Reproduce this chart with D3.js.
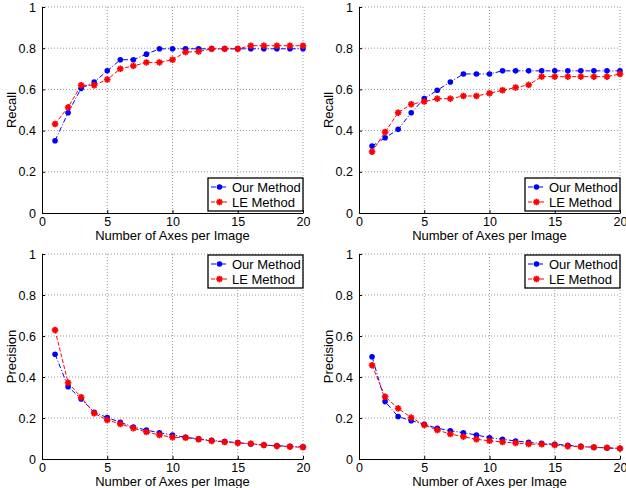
<!DOCTYPE html>
<html>
<head>
<meta charset="utf-8">
<script src="https://cdnjs.cloudflare.com/ajax/libs/d3/7.8.5/d3.min.js"></script>
<style>
  body { margin: 0; background: #fff; }
  svg { font-family: "Liberation Sans", Arial, sans-serif; }
</style>
</head>
<body>
<div id="chart"></div>
<script>
// axes per image, 1..20
var axesCount = d3.range(1, 21);
var xTicks = [0, 5, 10, 15, 20];
var yTicks = [0, 0.2, 0.4, 0.6, 0.8, 1];
var seriesNames = ["Our Method", "LE Method"];

// top left: recall
var recallOursA = [0.351, 0.487, 0.605, 0.636, 0.690, 0.744, 0.744, 0.771, 0.797, 0.797,
                   0.797, 0.797, 0.797, 0.797, 0.797, 0.797, 0.797, 0.797, 0.797, 0.797];
var recallLEA   = [0.432, 0.513, 0.620, 0.620, 0.648, 0.700, 0.714, 0.731, 0.731, 0.744,
                   0.781, 0.784, 0.797, 0.797, 0.797, 0.812, 0.812, 0.812, 0.812, 0.812];
// top right: recall
var recallOursB = [0.325, 0.365, 0.406, 0.487, 0.555, 0.596, 0.636, 0.675, 0.675, 0.675,
                   0.690, 0.690, 0.690, 0.690, 0.690, 0.690, 0.690, 0.690, 0.690, 0.690];
var recallLEB   = [0.297, 0.393, 0.487, 0.528, 0.541, 0.555, 0.555, 0.568, 0.568, 0.581,
                   0.596, 0.609, 0.622, 0.662, 0.662, 0.662, 0.662, 0.662, 0.662, 0.675];
// bottom left: precision
var precOursA = [0.511, 0.353, 0.293, 0.228, 0.202, 0.179, 0.156, 0.141, 0.128, 0.117,
                 0.106, 0.098, 0.091, 0.085, 0.080, 0.073, 0.068, 0.065, 0.062, 0.059];
var precLEA   = [0.629, 0.372, 0.301, 0.223, 0.190, 0.171, 0.150, 0.132, 0.117, 0.106,
                 0.104, 0.096, 0.088, 0.083, 0.078, 0.075, 0.068, 0.063, 0.060, 0.057];
// bottom right: precision
var precOursB = [0.499, 0.280, 0.207, 0.187, 0.169, 0.150, 0.138, 0.128, 0.117, 0.104,
                 0.096, 0.088, 0.081, 0.076, 0.072, 0.067, 0.062, 0.057, 0.054, 0.050];
var precLEB   = [0.457, 0.304, 0.247, 0.202, 0.166, 0.141, 0.122, 0.109, 0.096, 0.089,
                 0.083, 0.078, 0.073, 0.072, 0.068, 0.062, 0.060, 0.057, 0.055, 0.052];

var width = 626, height = 488;
var svg = d3.select("#chart").append("svg")
    .attr("width", width)
    .attr("height", height);

var colours = ["#0000ff", "#ff0000"];
var dashes = ["5,2,1,2", "4,2"];

function drawMarker(g, kind, x, y, colour) {
    if (kind == 0) {
        g.append("circle").attr("cx", x).attr("cy", y).attr("r", 2.8).attr("fill", colour);
    } else {
        // matlab-ish asterisk
        var r = 3.3;
        [[r, 0], [0, r], [r * 0.7, r * 0.7], [r * 0.7, -r * 0.7]].forEach(function (p) {
            g.append("line")
                .attr("x1", x - p[0]).attr("y1", y - p[1])
                .attr("x2", x + p[0]).attr("y2", y + p[1])
                .attr("stroke", colour).attr("stroke-width", 1.8);
        });
        g.append("circle").attr("cx", x).attr("cy", y).attr("r", 1.8).attr("fill", colour);
    }
}

function drawPanel(cfg) {
    var xScale = d3.scaleLinear().domain([0, 20]).range([cfg.left, cfg.right]);
    var yScale = d3.scaleLinear().domain([0, 1]).range([cfg.bottom, cfg.top]);
    var g = svg.append("g");

    // dotted grid
    g.selectAll(".gx").data(xTicks.slice(1)).enter().append("line")
        .attr("x1", d => xScale(d)).attr("x2", d => xScale(d))
        .attr("y1", cfg.top).attr("y2", cfg.bottom)
        .attr("stroke", "#999").attr("stroke-dasharray", "1,2");
    g.selectAll(".gy").data(yTicks.slice(1)).enter().append("line")
        .attr("x1", cfg.left).attr("x2", cfg.right)
        .attr("y1", d => yScale(d)).attr("y2", d => yScale(d))
        .attr("stroke", "#999").attr("stroke-dasharray", "1,2");

    // axes, ticks pointing inwards
    var xAxis = g.append("g")
        .attr("transform", "translate(0," + cfg.bottom + ")")
        .call(d3.axisBottom(xScale).tickValues(xTicks).tickSizeInner(-3).tickSizeOuter(0).tickPadding(4));
    var yAxis = g.append("g")
        .attr("transform", "translate(" + cfg.left + ",0)")
        .call(d3.axisLeft(yScale).tickValues(yTicks).tickSizeInner(-3).tickSizeOuter(0).tickPadding(6)
            .tickFormat(d3.format("")));
    [xAxis, yAxis].forEach(function (a) {
        a.select(".domain").attr("stroke", "#000").attr("stroke-width", 1);
        a.selectAll("text").attr("font-size", 12.5).attr("fill", "#000")
            .attr("font-family", "Liberation Sans, Arial, sans-serif");
    });

    g.append("text")
        .attr("x", (cfg.left + cfg.right) / 2)
        .attr("y", cfg.bottom + 27)
        .attr("text-anchor", "middle")
        .attr("font-size", 13)
        .text("Number of Axes per Image");
    g.append("text")
        .attr("transform", "translate(" + (cfg.left - 26) + "," + ((cfg.top + cfg.bottom) / 2) + ") rotate(-90)")
        .attr("text-anchor", "middle")
        .attr("font-size", 13)
        .text(cfg.yLabel);

    var line = d3.line()
        .x(function (d, i) { return xScale(axesCount[i]); })
        .y(function (d) { return yScale(d); });

    cfg.series.forEach(function (vals, s) {
        g.append("path")
            .attr("d", line(vals))
            .attr("fill", "none")
            .attr("stroke", colours[s])
            .attr("stroke-width", 1)
            .attr("stroke-dasharray", dashes[s]);
    });
    cfg.series.forEach(function (vals, s) {
        vals.forEach(function (v, i) {
            drawMarker(g, s, xScale(axesCount[i]), yScale(v), colours[s]);
        });
    });

    // legend
    var lw = 95, lh = 33;
    var lx = cfg.right - lw, ly = cfg.legendTop ? cfg.top + 1 : cfg.bottom - lh - 2;
    var leg = g.append("g").attr("transform", "translate(" + lx + "," + ly + ")");
    leg.append("rect").attr("width", lw).attr("height", lh)
        .attr("fill", "#fff").attr("stroke", "#000").attr("stroke-width", 1.3);
    seriesNames.forEach(function (name, s) {
        var yy = 9 + s * 15;
        leg.append("line").attr("x1", 3).attr("x2", 20).attr("y1", yy).attr("y2", yy)
            .attr("stroke", colours[s]).attr("stroke-dasharray", dashes[s]);
        drawMarker(leg, s, 11.5, yy, colours[s]);
        leg.append("text").attr("x", 24).attr("y", yy + 4.5)
            .attr("font-size", 13).text(name);
    });
}

drawPanel({left: 42, right: 303, top: 7, bottom: 213, yLabel: "Recall",
           series: [recallOursA, recallLEA], legendTop: false});
drawPanel({left: 359, right: 620, top: 7, bottom: 213, yLabel: "Recall",
           series: [recallOursB, recallLEB], legendTop: false});
drawPanel({left: 42, right: 303, top: 254, bottom: 459, yLabel: "Precision",
           series: [precOursA, precLEA], legendTop: true});
drawPanel({left: 359, right: 620, top: 254, bottom: 459, yLabel: "Precision",
           series: [precOursB, precLEB], legendTop: true});
</script>
</body>
</html>
